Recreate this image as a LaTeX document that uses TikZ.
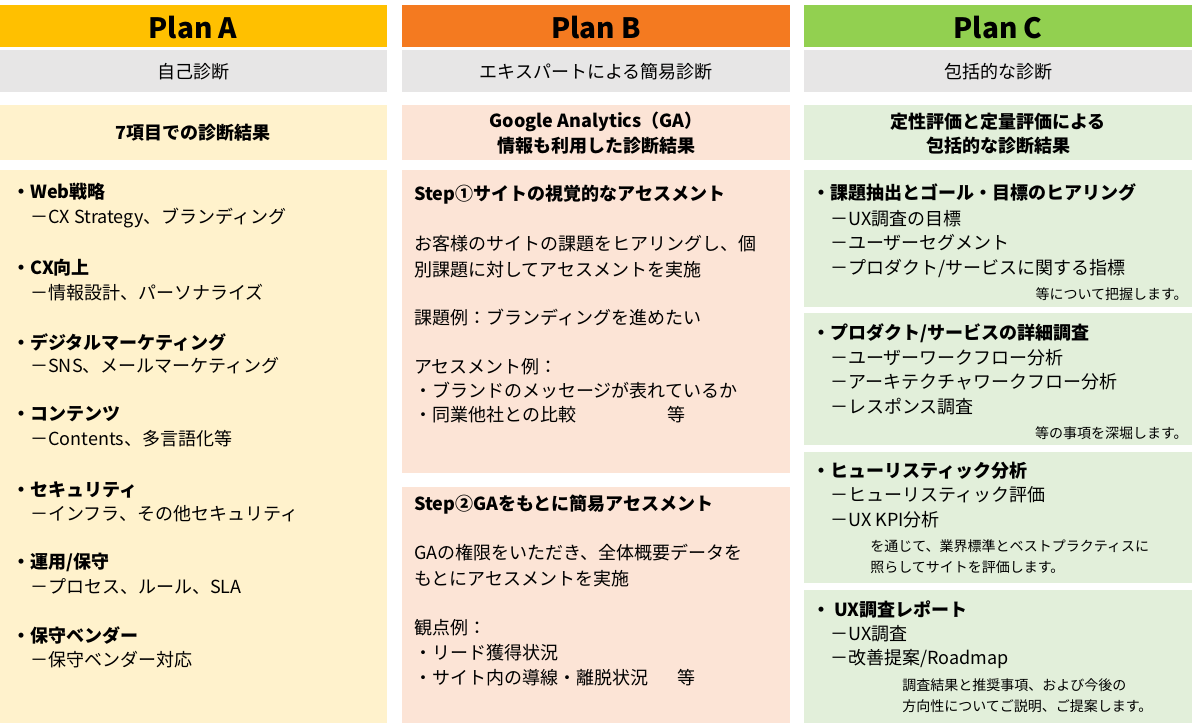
\documentclass[tikz,border=0pt]{standalone}
\usepackage{fontspec}
\setmainfont{Noto Sans CJK JP}
\definecolor{hA}{HTML}{FFC000}\definecolor{lA}{HTML}{FFF2CC}
\definecolor{hB}{HTML}{F47A20}\definecolor{lB}{HTML}{FCE4D6}
\definecolor{hC}{HTML}{92D050}\definecolor{lC}{HTML}{E2EFDA}
\definecolor{gr}{HTML}{E7E6E6}
\tikzset{
 t/.style={inner sep=0pt,anchor=west,font=\fontsize{13.5}{16}\selectfont},
 tb/.style={t,font=\fontsize{13.5}{16}\selectfont\bfseries},
 ts/.style={inner sep=0pt,font=\fontsize{10.5}{13}\selectfont},
 ttl/.style={inner sep=0pt,font=\fontsize{21}{24}\selectfont\bfseries},
 ctr/.style={inner sep=0pt,font=\fontsize{13.5}{16}\selectfont},
 ctrb/.style={ctr,font=\fontsize{13.5}{16}\selectfont\bfseries}
}
\begin{document}
\begin{tikzpicture}[x=0.75pt,y=-0.75pt]
\useasboundingbox (0,0) rectangle (1200,723);
% column A
\fill[hA] (0,5) rectangle (387,47);
\fill[gr] (0,50) rectangle (387,92);
\fill[lA] (0,105) rectangle (387,160);
\fill[lA] (0,170) rectangle (387,723);
% column B
\fill[hB] (402,5) rectangle (790,47);
\fill[gr] (402,50) rectangle (790,92);
\fill[lB] (402,105) rectangle (790,160);
\fill[lB] (402,170) rectangle (790,473);
\fill[lB] (402,487) rectangle (790,723);
% column C
\fill[hC] (804,5) rectangle (1192,47);
\fill[gr] (804,50) rectangle (1192,92);
\fill[lC] (804,105) rectangle (1192,160);
\fill[lC] (804,170) rectangle (1192,307);
\fill[lC] (804,313) rectangle (1192,445);
\fill[lC] (804,452) rectangle (1192,583);
\fill[lC] (804,590) rectangle (1192,723);
% headers
\node[ttl] (ha) at (193,28) {Plan A};
\node[ttl] (hb) at (596,28) {Plan B};
\node[ttl] (hc) at (998,28) {Plan C};
\node[ctr] (sa) at (193,72) {自己診断};
\node[ctr] (sb) at (596,72) {エキスパートによる簡易診断};
\node[ctr] (sc) at (998,72) {包括的な診断};
\node[ctrb] (ra) at (193,133) {7項目での診断結果};
\node[ctrb] (rb1) at (596,122) {Google Analytics（GA）};
\node[ctrb] (rb2) at (596,146) {情報も利用した診断結果};
\node[ctrb] (rc1) at (998,122) {定性評価と定量評価による};
\node[ctrb] (rc2) at (998,146) {包括的な診断結果};
% A content
\node[tb] (a1) at (12,192) {・Web戦略};
\node[t] (a2) at (30,218) {－CX Strategy、ブランディング};
\node[tb] (a3) at (12,268) {・CX向上};
\node[t] (a4) at (30,293) {－情報設計、パーソナライズ};
\node[tb] (a5) at (12,342) {・デジタルマーケティング};
\node[t] (a6) at (30,366) {－SNS、メールマーケティング};
\node[tb] (a7) at (12,414) {・コンテンツ};
\node[t] (a8) at (30,439) {－Contents、多言語化等};
\node[tb] (a9) at (12,490) {・セキュリティ};
\node[t] (a10) at (30,514) {－インフラ、その他セキュリティ};
\node[tb] (a11) at (12,562) {・運用/保守};
\node[t] (a12) at (30,587) {－プロセス、ルール、SLA};
\node[tb] (a13) at (12,636) {・保守ベンダー};
\node[t] (a14) at (30,660) {－保守ベンダー対応};
% B content
\node[tb] (b1) at (414,195) {Step①サイトの視覚的なアセスメント};
\node[t] (b2) at (414,244) {お客様のサイトの課題をヒアリングし、個};
\node[t] (b3) at (414,270) {別課題に対してアセスメントを実施};
\node[t] (b4) at (414,318) {課題例：ブランディングを進めたい};
\node[t] (b5) at (414,367) {アセスメント例：};
\node[t] (b6) at (414,391) {・ブランドのメッセージが表れているか};
\node[t] (b7) at (414,415) {・同業他社との比較};
\node[t] (b8) at (667,415) {等};
\node[tb] (b9) at (414,505) {Step②GAをもとに簡易アセスメント};
\node[t] (b10) at (414,553) {GAの権限をいただき、全体概要データを};
\node[t] (b11) at (414,579) {もとにアセスメントを実施};
\node[t] (b12) at (414,628) {観点例：};
\node[t] (b13) at (414,653) {・リード獲得状況};
\node[t] (b14) at (414,678) {・サイト内の導線・離脱状況};
\node[t] (b15) at (677,678) {等};
% C content
\node[tb] (c1) at (812,193) {・課題抽出とゴール・目標のヒアリング};
\node[t] (c2) at (830,219) {－UX調査の目標};
\node[t] (c3) at (830,243) {－ユーザーセグメント};
\node[t] (c4) at (830,268) {－プロダクト/サービスに関する指標};
\node[ts,anchor=east] (c5) at (1188,294) {等について把握します。};
\node[tb] (c6) at (812,333) {・プロダクト/サービスの詳細調査};
\node[t] (c7) at (830,358) {－ユーザーワークフロー分析};
\node[t] (c8) at (830,382) {－アーキテクチャワークフロー分析};
\node[t] (c9) at (830,407) {－レスポンス調査};
\node[ts,anchor=east] (c10) at (1188,433) {等の事項を深堀します。};
\node[tb] (c11) at (812,471) {・ヒューリスティック分析};
\node[t] (c12) at (830,495) {－ヒューリスティック評価};
\node[t] (c13) at (830,520) {－UX KPI分析};
\node[ts,anchor=west] (c14) at (870,546) {を通じて、業界標準とベストプラクティスに};
\node[ts,anchor=west] (c15) at (870,567) {照らしてサイトを評価します。};
\node[tb] (c16) at (812,610) {・ UX調査レポート};
\node[t] (c17) at (830,634) {－UX調査};
\node[t] (c18) at (830,659) {－改善提案/Roadmap};
\node[ts,anchor=west] (c19) at (902,685) {調査結果と推奨事項、および今後の};
\node[ts,anchor=west] (c20) at (902,706) {方向性についてご説明、ご提案します。};
\end{tikzpicture}
\end{document}
